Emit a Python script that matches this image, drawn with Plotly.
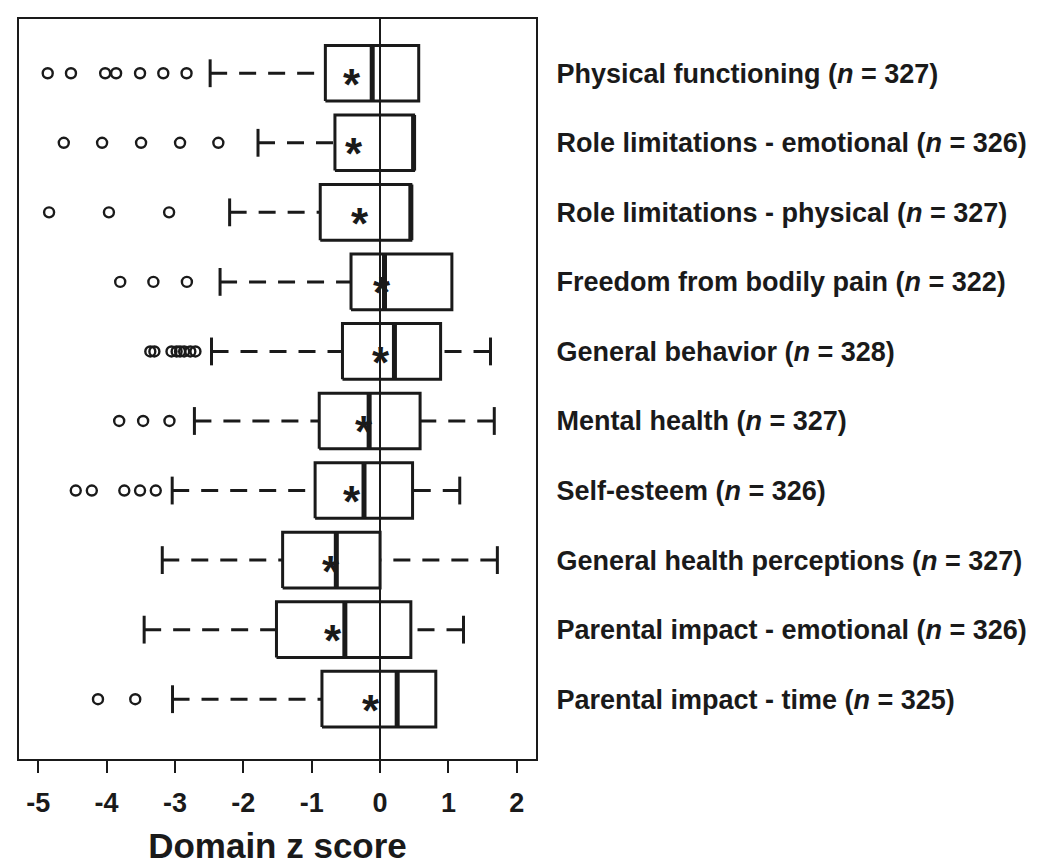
import plotly.graph_objects as go

# Domains, top to bottom
DOMAINS = ["Physical functioning", "Role limitations - emotional",
           "Role limitations - physical", "Freedom from bodily pain",
           "General behavior", "Mental health", "Self-esteem",
           "General health perceptions", "Parental impact - emotional",
           "Parental impact - time"]
N = [327, 326, 327, 322, 328, 327, 326, 327, 326, 325]

# box statistics
WLO = [-2.485, -1.785, -2.20, -2.34, -2.465, -2.715, -3.04, -3.185, -3.45, -3.035]
Q1 = [-0.80, -0.66, -0.875, -0.425, -0.55, -0.89, -0.95, -1.425, -1.515, -0.85]
MED = [-0.115, 0.49, 0.45, 0.065, 0.21, -0.16, -0.235, -0.64, -0.515, 0.25]
Q3 = [0.565, 0.49, 0.45, 1.05, 0.885, 0.585, 0.475, 0.0, 0.45, 0.815]
WHI = [0.565, 0.49, 0.45, 1.05, 1.615, 1.67, 1.165, 1.715, 1.22, 0.815]
MEAN = [-0.41, -0.375, -0.30, 0.035, 0.015, -0.235, -0.41, -0.715, -0.69, -0.135]
OUTLIERS = [
    [-4.86, -4.52, -4.02, -3.86, -3.51, -3.17, -2.83],
    [-4.625, -4.065, -3.495, -2.925, -2.365],
    [-4.84, -3.965, -3.085],
    [-3.80, -3.315, -2.825],
    [-3.36, -3.30, -3.05, -2.975, -2.925, -2.865, -2.775, -2.70],
    [-3.815, -3.465, -3.08],
    [-4.45, -4.215, -3.74, -3.51, -3.28],
    [],
    [],
    [-4.125, -3.58],
]
X_TICKS = [-5, -4, -3, -2, -1, 0, 1, 2]

INK = "#1a1a1a"
FONT = "Liberation Sans, Arial, Helvetica, sans-serif"
HW = 0.4    # half box width
CAP = 0.2   # half staple width

ypos = [len(DOMAINS) - i for i in range(len(DOMAINS))]

bx, by, mx, my, wx, wy, cx, cy, ox, oy = [], [], [], [], [], [], [], [], [], []
for i, y in enumerate(ypos):
    bx += [Q1[i], Q3[i], Q3[i], Q1[i], Q1[i], None]
    by += [y - HW, y - HW, y + HW, y + HW, y - HW, None]
    mx += [MED[i], MED[i], None]
    my += [y - HW, y + HW, None]
    for lo, hi in [(WLO[i], Q1[i]), (WHI[i], Q3[i])]:
        if lo != hi:
            wx += [lo, hi, None]
            wy += [y, y, None]
            cx += [lo, lo, None]
            cy += [y - CAP, y + CAP, None]
    ox += OUTLIERS[i]
    oy += [y] * len(OUTLIERS[i])

fig = go.Figure()
fig.add_trace(go.Scatter(x=wx, y=wy, mode="lines",
                         line=dict(color=INK, width=3, dash="17px,12px")))
fig.add_trace(go.Scatter(x=cx, y=cy, mode="lines", line=dict(color=INK, width=3)))
fig.add_trace(go.Scatter(x=bx, y=by, mode="lines", line=dict(color=INK, width=3)))
fig.add_trace(go.Scatter(x=mx, y=my, mode="lines", line=dict(color=INK, width=5)))
fig.add_trace(go.Scatter(x=ox, y=oy, mode="markers",
                         marker=dict(symbol="circle-open", size=10, color=INK,
                                     line=dict(width=2.4, color=INK))))

# means drawn as asterisks
for i, y in enumerate(ypos):
    fig.add_annotation(x=MEAN[i], y=y, text="<b>*</b>", showarrow=False,
                       yshift=-11, font=dict(family=FONT, size=44, color=INK))

ticktext = ["<b>%s (<i>n</i> = %d)</b>" % (d, n) for d, n in zip(DOMAINS, N)]

fig.update_layout(
    width=1050, height=867,
    margin=dict(l=10, r=522, t=9, b=116),
    plot_bgcolor="white", paper_bgcolor="white",
    showlegend=False,
    font=dict(family=FONT, color=INK),
    xaxis=dict(range=[-5.28, 2.28], tickvals=X_TICKS,
               ticktext=["<b>%d</b>" % t for t in X_TICKS],
               ticks="outside", ticklen=12, tickwidth=1.5, tickcolor=INK,
               ticklabelstandoff=7,
               tickfont=dict(size=27, family=FONT, color=INK),
               showgrid=False, zeroline=True, zerolinecolor=INK, zerolinewidth=1.5,
               showline=True, linecolor=INK, linewidth=2, mirror=True,
               title=dict(text="<b>Domain z score</b>", standoff=16,
                          font=dict(size=35, family=FONT, color=INK))),
    yaxis=dict(range=[0.14, 10.78], tickvals=ypos, ticktext=ticktext,
               side="right", ticks="", ticklabelstandoff=13,
               tickfont=dict(size=27, family=FONT, color=INK),
               showgrid=False, zeroline=False,
               showline=True, linecolor=INK, linewidth=2, mirror=True),
)

fig.write_html("out.html")
